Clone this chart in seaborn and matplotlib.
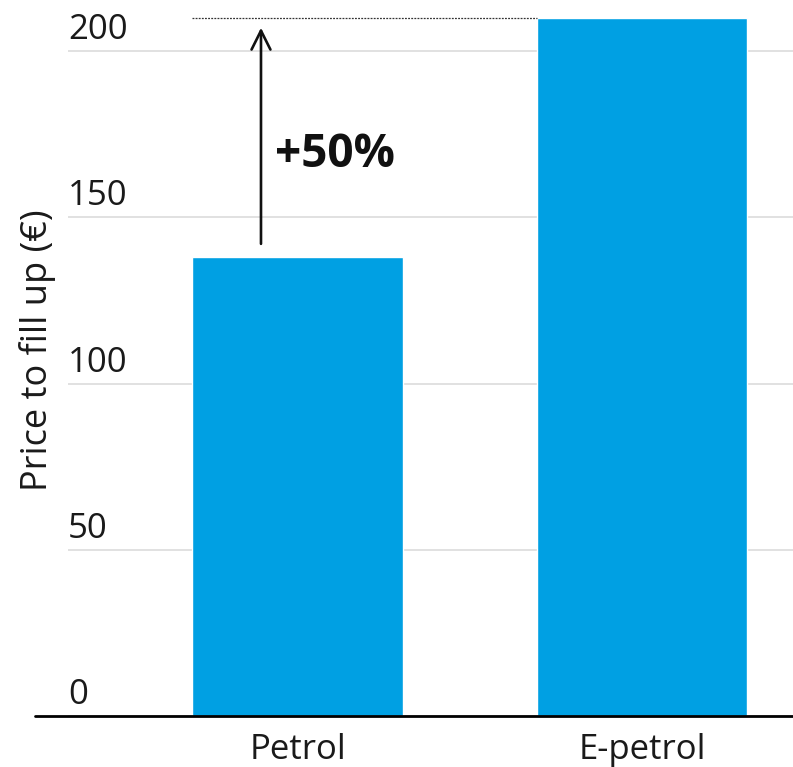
import matplotlib
matplotlib.use("Agg")
import matplotlib.pyplot as plt
import seaborn as sns

categories = ["Petrol", "E-petrol"]
prices = [138, 210]
yticks = [0, 50, 100, 150, 200]
ytick_labels = ["0", "50", "100", "150", "200"]
arrow_from, arrow_to = 142, 207
change_label = "+50%"
ylabel = "Price to fill up (€)"

sns.set_style("white")
plt.rcParams["font.family"] = ["Open Sans", "DejaVu Sans"]

W, H = 793, 767
fig = plt.figure(figsize=(W / 100, H / 100), dpi=100)
ax = fig.add_axes([68 / W, (H - 716) / H, 1 - 68 / W, 716 / H])

bar_color = "#00A0E3"
sns.barplot(x=categories, y=prices, color=bar_color, saturation=1, width=0.61, ax=ax)

ax.set_xlim(-0.6662, 1.4383)
ax.set_ylim(0, 716 / 3.325)

for s in ax.spines.values():
    s.set_visible(False)

ax.set_yticks(yticks)
ax.set_yticklabels([])
ax.tick_params(axis="y", length=0)
ax.yaxis.grid(True, color="#d9d9d9", linewidth=1.1)
ax.set_axisbelow(True)
for v, lab in zip(yticks, ytick_labels):
    ax.annotate(lab, xy=(0, v), xycoords=ax.get_yaxis_transform(),
                xytext=(0, 8.5), textcoords="offset points",
                ha="left", va="baseline", fontsize=25, color="#1a1a1a")

ax.tick_params(axis="x", length=0, pad=12, labelsize=25, labelcolor="#1a1a1a")
ax.set_xlabel("")

ax.set_ylabel(ylabel, fontsize=26, color="#1a1a1a")
ax.yaxis.label.set_va("center")
ax.yaxis.set_label_coords(-0.0415, (716 - 350) / 716)

ax.axhline(0, xmin=-(68 - 35) / 725, xmax=1, color="black", linewidth=2, clip_on=False, zorder=5)

# dotted reference line at E-petrol level
half = 0.61 / 2
ax.plot([0 - half, 1 - half], [prices[1], prices[1]], linestyle=(0, (1.5, 1)),
        color="#333333", linewidth=0.9)

# arrow
ax.annotate("", xy=(-0.106, arrow_to), xytext=(-0.106, arrow_from),
            arrowprops=dict(arrowstyle="->", color="#111111", lw=1.9,
                            mutation_scale=34, shrinkA=0, shrinkB=0))
ax.text(-0.066, 169, change_label, fontsize=33, fontweight="bold",
        ha="left", va="center", color="#111111")

fig.savefig("out.png", dpi=100)
